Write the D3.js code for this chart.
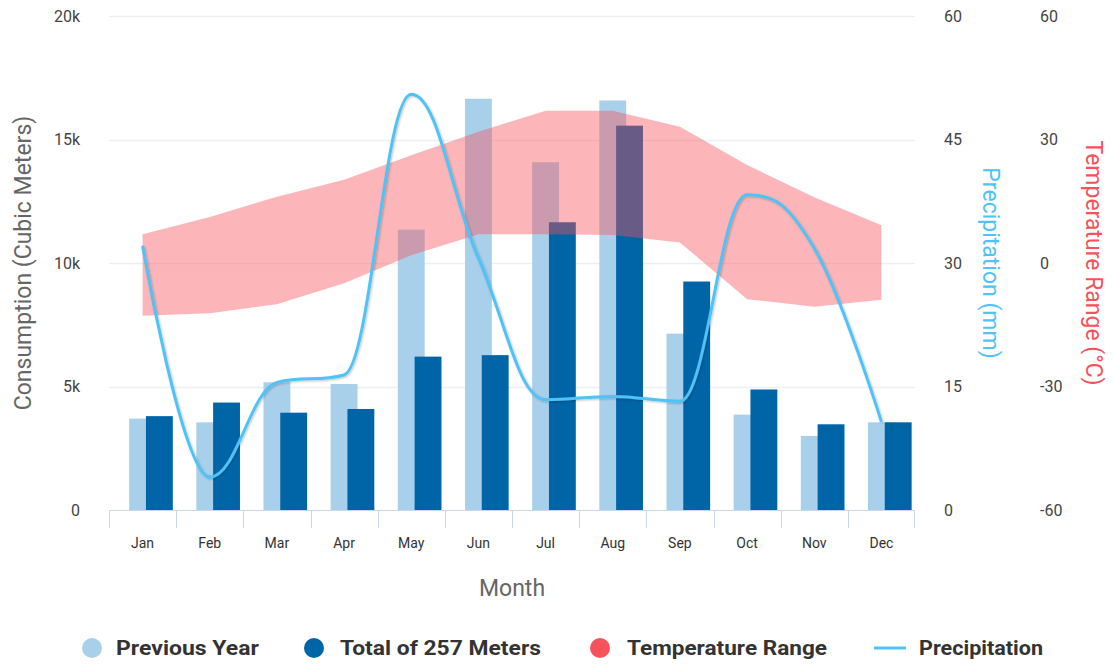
<!DOCTYPE html>
<html><head><meta charset="utf-8">
<script src="https://cdn.jsdelivr.net/npm/d3@7"></script>
<style>
html,body{margin:0;padding:0;background:#fff;}
svg{font-family:Roboto,"Noto Sans",sans-serif;display:block;}
</style></head>
<body><svg id="c" width="1113" height="668"></svg>
<script>
const months = ["Jan","Feb","Mar","Apr","May","Jun","Jul","Aug","Sep","Oct","Nov","Dec"];
const previousYear = [3700,3550,5170,5100,11350,16650,14080,16580,7140,3860,3000,3550];
const totalMeters  = [3800,4350,3940,4090,6210,6270,11650,15560,9250,4880,3470,3550];
const tempLow  = [-12.8,-12.2,-10.0,-4.9,1.9,7.0,7.0,6.8,5.0,-8.8,-10.6,-8.9];
const tempHigh = [7.0,11.2,16.1,20.2,26.2,31.9,37.0,37.0,33.1,23.8,16.0,9.2];
const precipitation = [32.1,4.0,15.5,16.4,50.5,30.6,13.4,13.8,13.2,38.3,31.8,10.7];
const consumptionTicks = [0,5000,10000,15000,20000];
const precipTicks = [0,15,30,45,60];
const tempTicks = [-60,-30,0,30,60];

const svg = d3.select("#c");
const L = 109, R = 915, T = 16, B = 510;
const x = d3.scaleBand().domain(months).range([L,R]).padding(0);
const yC = d3.scaleLinear().domain([0,20000]).range([B,T]);
const yP = d3.scaleLinear().domain([0,60]).range([B,T]);
const yT = d3.scaleLinear().domain([-60,60]).range([B,T]);
const bw = x.bandwidth();
const cx = m => x(m) + bw/2;

const defs = svg.append("defs");
const f = defs.append("filter").attr("id","sh").attr("x","-5%").attr("y","-5%").attr("width","110%").attr("height","110%");
f.append("feDropShadow").attr("dx",1).attr("dy",1).attr("stdDeviation",1.2).attr("flood-color","#000").attr("flood-opacity",0.25);

// gridlines
svg.append("g").selectAll("line").data(consumptionTicks.slice(1)).join("line")
  .attr("x1",L).attr("x2",R).attr("y1",d=>Math.round(yC(d))+0.5).attr("y2",d=>Math.round(yC(d))+0.5)
  .attr("stroke","#eeeff3").attr("stroke-width",1.5);

// bars
const barW = bw*0.4;
svg.append("g").selectAll("rect").data(months).join("rect")
  .attr("x",(m)=>cx(m)-barW/2).attr("width",barW)
  .attr("y",(m,i)=>yC(previousYear[i])).attr("height",(m,i)=>B-yC(previousYear[i]))
  .attr("fill","#a9d0ea");
svg.append("g").selectAll("rect").data(months).join("rect")
  .attr("x",(m)=>cx(m)+bw*0.25-barW/2).attr("width",barW)
  .attr("y",(m,i)=>yC(totalMeters[i])).attr("height",(m,i)=>B-yC(totalMeters[i]))
  .attr("fill","#0065a7");

// temperature area
const area = d3.area().x((d,i)=>cx(months[i])).y0((d,i)=>yT(tempLow[i])).y1((d,i)=>yT(tempHigh[i]));
svg.append("path").datum(months).attr("d",area).attr("fill","#f7525a").attr("fill-opacity",0.42);

// precipitation spline (Highcharts-style)
function splinePath(pts){
  const sm=1.5, den=sm+1;
  const n=pts.length;
  const lc=pts.map(p=>[p[0],p[1]]), rc=pts.map(p=>[p[0],p[1]]);
  for(let i=1;i<n-1;i++){
    const [px,py]=pts[i],[lx,ly]=pts[i-1],[nx,ny]=pts[i+1];
    let lcx=(sm*px+lx)/den, lcy=(sm*py+ly)/den, rcx=(sm*px+nx)/den, rcy=(sm*py+ny)/den;
    let corr=0;
    if(rcx!==lcx) corr=((rcy-lcy)*(rcx-px))/(rcx-lcx)+py-rcy;
    lcy+=corr; rcy+=corr;
    if(lcy>ly&&lcy>py){lcy=Math.max(ly,py);rcy=2*py-lcy;}
    else if(lcy<ly&&lcy<py){lcy=Math.min(ly,py);rcy=2*py-lcy;}
    if(rcy>ny&&rcy>py){rcy=Math.max(ny,py);lcy=2*py-rcy;}
    else if(rcy<ny&&rcy<py){rcy=Math.min(ny,py);lcy=2*py-rcy;}
    lc[i]=[lcx,lcy]; rc[i]=[rcx,rcy];
  }
  const p=d3.path();
  p.moveTo(pts[0][0],pts[0][1]);
  for(let i=1;i<n;i++){
    p.bezierCurveTo(rc[i-1][0],rc[i-1][1],lc[i][0],lc[i][1],pts[i][0],pts[i][1]);
  }
  return p.toString();
}
const pp = months.map((m,i)=>[cx(m), yP(precipitation[i])]);
svg.append("path").attr("d",splinePath(pp)).attr("fill","none")
  .attr("stroke","#4fc3f7").attr("stroke-width",3).attr("filter","url(#sh)");

// x axis
svg.append("line").attr("x1",L).attr("x2",R).attr("y1",B+0.5).attr("y2",B+0.5).attr("stroke","#ccd6eb");
svg.append("g").selectAll("line").data(months.concat(["end"])).join("line")
  .attr("x1",(m,i)=> i<12 ? Math.round(x(m))+0.5 : R-0.5).attr("x2",(m,i)=> i<12 ? Math.round(x(m))+0.5 : R-0.5)
  .attr("y1",B).attr("y2",B+18).attr("stroke","#ccd6eb");
svg.append("g").selectAll("text").data(months).join("text")
  .attr("x",m=>cx(m)).attr("y",548).attr("text-anchor","middle")
  .attr("font-size",14).attr("fill","#333").text(m=>m);
svg.append("text").attr("x",(L+R)/2).attr("y",596).attr("text-anchor","middle")
  .attr("font-size",23).attr("fill","#666").text("Month");

// left axis
svg.append("g").selectAll("text").data(consumptionTicks).join("text")
  .attr("x",80).attr("y",d=>yC(d)).attr("dy","0.35em").attr("text-anchor","end")
  .attr("font-size",16).attr("fill","#444").text(d=>d===0?"0":(d/1000)+"k");
svg.append("text").attr("transform",`translate(31,${(T+B)/2}) rotate(-90)`).attr("text-anchor","middle")
  .attr("font-size",23).attr("fill","#666").text("Consumption (Cubic Meters)");

// precipitation axis
svg.append("g").selectAll("text").data(precipTicks).join("text")
  .attr("x",944).attr("y",d=>yP(d)).attr("dy","0.35em").attr("text-anchor","start")
  .attr("font-size",16).attr("fill","#444").text(d=>d);
svg.append("text").attr("transform",`translate(983,${(T+B)/2}) rotate(90)`).attr("text-anchor","middle")
  .attr("font-size",23).attr("fill","#4fc3f7").text("Precipitation (mm)");

// temperature axis
svg.append("g").selectAll("text").data(tempTicks).join("text")
  .attr("x",1040).attr("y",d=>yT(d)).attr("dy","0.35em").attr("text-anchor","start")
  .attr("font-size",16).attr("fill","#444").text(d=>d);
svg.append("text").attr("transform",`translate(1086,${(T+B)/2}) rotate(90)`).attr("text-anchor","middle")
  .attr("font-size",23).attr("fill","#f7525a").text("Temperature Range (°C)");

// legend
const legend = [
  {name:"Previous Year", type:"dot", color:"#a9d0ea", sx:92, tx:116, w:143},
  {name:"Total of 257 Meters", type:"dot", color:"#0065a7", sx:314, tx:340, w:201},
  {name:"Temperature Range", type:"dot", color:"#f7525a", sx:600, tx:627, w:200},
  {name:"Precipitation", type:"line", color:"#4fc3f7", sx:890, tx:919, w:124}
];
const lg = svg.append("g");
legend.forEach(d=>{
  if(d.type==="dot") lg.append("circle").attr("cx",d.sx).attr("cy",648).attr("r",10).attr("fill",d.color);
  else lg.append("line").attr("x1",d.sx-16).attr("x2",d.sx+16).attr("y1",648).attr("y2",648).attr("stroke",d.color).attr("stroke-width",3);
  lg.append("text").attr("x",d.tx).attr("y",655).attr("font-size",20).attr("font-weight","bold")
    .attr("fill","#333").attr("textLength",d.w).attr("lengthAdjust","spacingAndGlyphs").text(d.name);
});
</script></body></html>
